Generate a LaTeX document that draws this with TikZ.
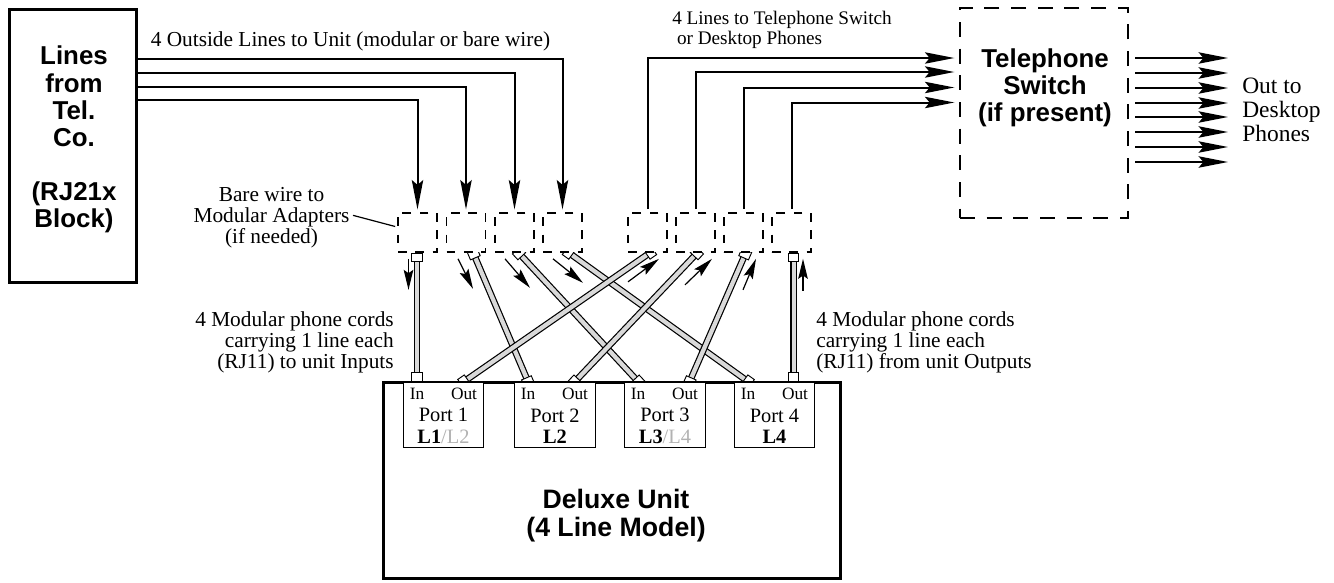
\documentclass[tikz,border=0pt]{standalone}
\usepackage{fontspec}
\setmainfont{Liberation Serif}
\newfontfamily\boldsans[BoldFont={Liberation Sans Bold}]{Liberation Sans}
\usepackage{tikz}
\usetikzlibrary{arrows.meta,backgrounds}
\definecolor{cordgray}{gray}{0.85}
\newcommand{\labelsize}{\fontsize{16}{15.8}\selectfont}
\newcommand{\switchsize}{\fontsize{14.4}{14.6}\selectfont}
\newcommand{\titlesize}{\boldsans\bfseries\fontsize{19.4}{20.3}\selectfont}
\newcommand{\unitsize}{\boldsans\bfseries\fontsize{20}{21}\selectfont}
\newcommand{\portsize}{\fontsize{15.3}{15}\selectfont}
\newcommand{\jacksize}{\fontsize{13}{13}\selectfont}

\begin{document}
\begin{tikzpicture}[x=0.75pt,y=-0.75pt,inner sep=0pt,
    bigbox/.style={draw,line width=2.25pt},
    switchbox/.style={draw,line width=1.5pt,dash pattern=on 11.25pt off 8.75pt,minimum width=126pt,minimum height=157.5pt},
    adapter/.style={draw,fill=white,line width=1.25pt,dash pattern=on 6.5pt off 6.5pt,minimum width=29.25pt,minimum height=29.25pt},
    portbox/.style={draw,fill=white,line width=0.7pt,minimum width=60.5pt,minimum height=48.75pt},
    wire/.style={line width=1.5pt,-{Stealth[length=22pt,width=8.5pt,inset=3.5pt]},shorten >=2pt},
    tick/.style={line width=0.9pt,-{Stealth[length=15pt,width=7.2pt,inset=2.5pt]}},
    cord/.style={line width=0.9pt,double=cordgray,double distance=3.2pt},
    plug/.style={draw,fill=white,line width=0.7pt,minimum width=6pt,minimum height=7.9pt,sloped,allow upside down},
    note/.style={font=\labelsize,align=left},
    noter/.style={font=\labelsize,align=right}]
\useasboundingbox (0,0) rectangle (1334,582);
% boxes
\node (telco) [bigbox,fill=white,minimum width=94.9pt,minimum height=204.75pt] at (72.8,145.5) {};
\node (telcotext) [font=\titlesize,align=center] at (74,139.5) {Lines\\from\\Tel.\\Co.\\[20.3pt](RJ21x\\Block)};
\node (switch) [switchbox] at (1044,113) {};
\node (switchtext) [font=\titlesize,align=center] at (1045,88) {Telephone\\Switch\\(if present)};
\node (unit) [bigbox,fill=white,minimum width=342.75pt,minimum height=147pt] at (611.5,480) {};
\node (unittext) [font=\unitsize,align=center] at (616,516) {Deluxe Unit\\(4 Line Model)};
% adapters
\node (bare1) [adapter] at (417.5,232.5) {};
\node (bare2) [adapter] at (466,232.5) {};
\node (bare3) [adapter] at (514.5,232.5) {};
\node (bare4) [adapter] at (562.5,232.5) {};
\node (bare5) [adapter] at (647.5,232.5) {};
\node (bare6) [adapter] at (695.5,232.5) {};
\node (bare7) [adapter] at (743.5,232.5) {};
\node (bare8) [adapter] at (791.5,232.5) {};
% ports
\node (port1) [portbox] at (443.5,414.5) {};
\node (port2) [portbox] at (555,414.5) {};
\node (port3) [portbox] at (665,414.5) {};
\node (port4) [portbox] at (774.5,414.5) {};
\node (in1) [font=\jacksize] at (417,394) {In};
\node (out1) [font=\jacksize] at (464,394) {Out};
\node (in2) [font=\jacksize] at (528,394) {In};
\node (out2) [font=\jacksize] at (575,394) {Out};
\node (in3) [font=\jacksize] at (638,394) {In};
\node (out3) [font=\jacksize] at (685,394) {Out};
\node (in4) [font=\jacksize] at (748,394) {In};
\node (out4) [font=\jacksize] at (795,394) {Out};
\node (name1) [font=\portsize,align=center] at (443.5,426) {Port 1\\[1pt]\textbf{L1}\textcolor{gray!60}{/L2}};
\node (name2) [font=\portsize,align=center] at (555,426) {Port 2\\[1pt]\textbf{L2}};
\node (name3) [font=\portsize,align=center] at (665,426) {Port 3\\[1pt]\textbf{L3}\textcolor{gray!60}{/L4}};
\node (name4) [font=\portsize,align=center] at (774.5,426) {Port 4\\[1pt]\textbf{L4}};
% wire ends
\coordinate (tel1) at (136,59);
\coordinate (tel2) at (136,73);
\coordinate (tel3) at (136,87);
\coordinate (tel4) at (136,100);
\coordinate (sw1) at (957,58);
\coordinate (sw2) at (957,72);
\coordinate (sw3) at (957,87.5);
\coordinate (sw4) at (957,102.5);
\draw [wire] (tel4) -| (bare1.north);
\draw [wire] (tel3) -| (bare2.north);
\draw [wire] (tel2) -| (bare3.north);
\draw [wire] (tel1) -| (bare4.north);
\draw [wire] ([yshift=2.25pt]bare5.north) |- (sw1);
\draw [wire] ([yshift=2.25pt]bare6.north) |- (sw2);
\draw [wire] ([yshift=2.25pt]bare7.north) |- (sw3);
\draw [wire] ([yshift=2.25pt]bare8.north) |- (sw4);
% cord ends at the adapters
\coordinate (top2) at (472,250);
\coordinate (top3) at (516,250);
\coordinate (top4) at (565,250);
\coordinate (top5) at (654,250);
\coordinate (top6) at (700,250);
\coordinate (top7) at (747,250);
% cords, under the boxes
\begin{scope}[on background layer]
\draw [cord] (in1 |- bare1.south) -- (in1 |- port1.north) node[plug,pos=0,anchor=west] (p1a) {} node[plug,pos=1,anchor=east,minimum width=6.75pt] (p1b) {};
\draw [cord] (top2) -- (in2 |- port2.north) node[plug,pos=0,anchor=west] (p2a) {} node[plug,pos=1] (p2b) {};
\draw [cord] (top3) -- (in3 |- port3.north) node[plug,pos=0,anchor=west] (p3a) {} node[plug,pos=1] (p3b) {};
\draw [cord] (top4) -- (in4 |- port4.north) node[plug,pos=0,anchor=west] (p4a) {} node[plug,pos=1] (p4b) {};
\draw [cord] (top5) -- (out1 |- port1.north) node[plug,pos=0,anchor=west] (p5a) {} node[plug,pos=1] (p5b) {};
\draw [cord] (top6) -- (out2 |- port2.north) node[plug,pos=0,anchor=west] (p6a) {} node[plug,pos=1] (p6b) {};
\draw [cord] (top7) -- ([xshift=3.5pt]out3 |- port3.north) node[plug,pos=0,anchor=west] (p7a) {} node[plug,pos=1] (p7b) {};
\draw [cord] ([xshift=-1pt]out4 |- bare8.south) -- ([xshift=-1pt]out4 |- port4.north) node[plug,pos=0,anchor=west] (p8a) {} node[plug,pos=1,anchor=east,minimum width=6.75pt] (p8b) {};
\end{scope}
% signal direction
\draw [tick] ([shift={(-9,6)}]bare1.south) -- +(0,31);
\draw [tick] ([shift={(-8,6)}]bare2.south) -- +(15,30);
\draw [tick] ([shift={(-9.5,6)}]bare3.south) -- +(25,29);
\draw [tick] ([shift={(-9.5,6)}]bare4.south) -- +(30,24);
\draw [tick] ([shift={(-19.5,29)}]bare5.south) -- +(31,-23);
\draw [tick] ([shift={(-10.5,32)}]bare6.south) -- +(27,-26);
\draw [tick] ([shift={(-0.5,37)}]bare7.south) -- +(13,-31);
\draw [tick] ([shift={(11.5,38)}]bare8.south) -- +(0,-32);
% out to phones
\foreach \yy in {58,73,88,103,117,132,147,162}{
  \draw [wire,shorten >=0pt] (1135,\yy) -- (1228,\yy);
}
% labels
\node (outside) [note,anchor=west] at (150.5,41) {4 Outside Lines to Unit (modular or bare wire)};
\node (tolines) [font=\switchsize,align=left,anchor=north west] at (672,11) {4 Lines to Telephone Switch\\\ or Desktop Phones};
\node (desktop) [font=\fontsize{17.6}{18}\selectfont,align=left,anchor=west] at (1242,110) {Out to\\Desktop\\Phones};
\node (barewire) [note,align=center] at (271.5,218) {Bare wire to\\Modular Adapters\\(if needed)};
\node (cordsin) [noter,anchor=east] at (394,342.5) {4 Modular phone cords\\carrying 1 line each\\(RJ11) to unit Inputs};
\node (cordsout) [note,anchor=west] at (816,342.5) {4 Modular phone cords\\carrying 1 line each\\(RJ11) from unit Outputs};
\coordinate (lead) at ([xshift=2.5pt,yshift=2pt]barewire.east);
\draw [line width=0.9pt] (lead) -- ([xshift=-1.5pt,yshift=4.5pt]bare1.west);
\end{tikzpicture}
\end{document}
